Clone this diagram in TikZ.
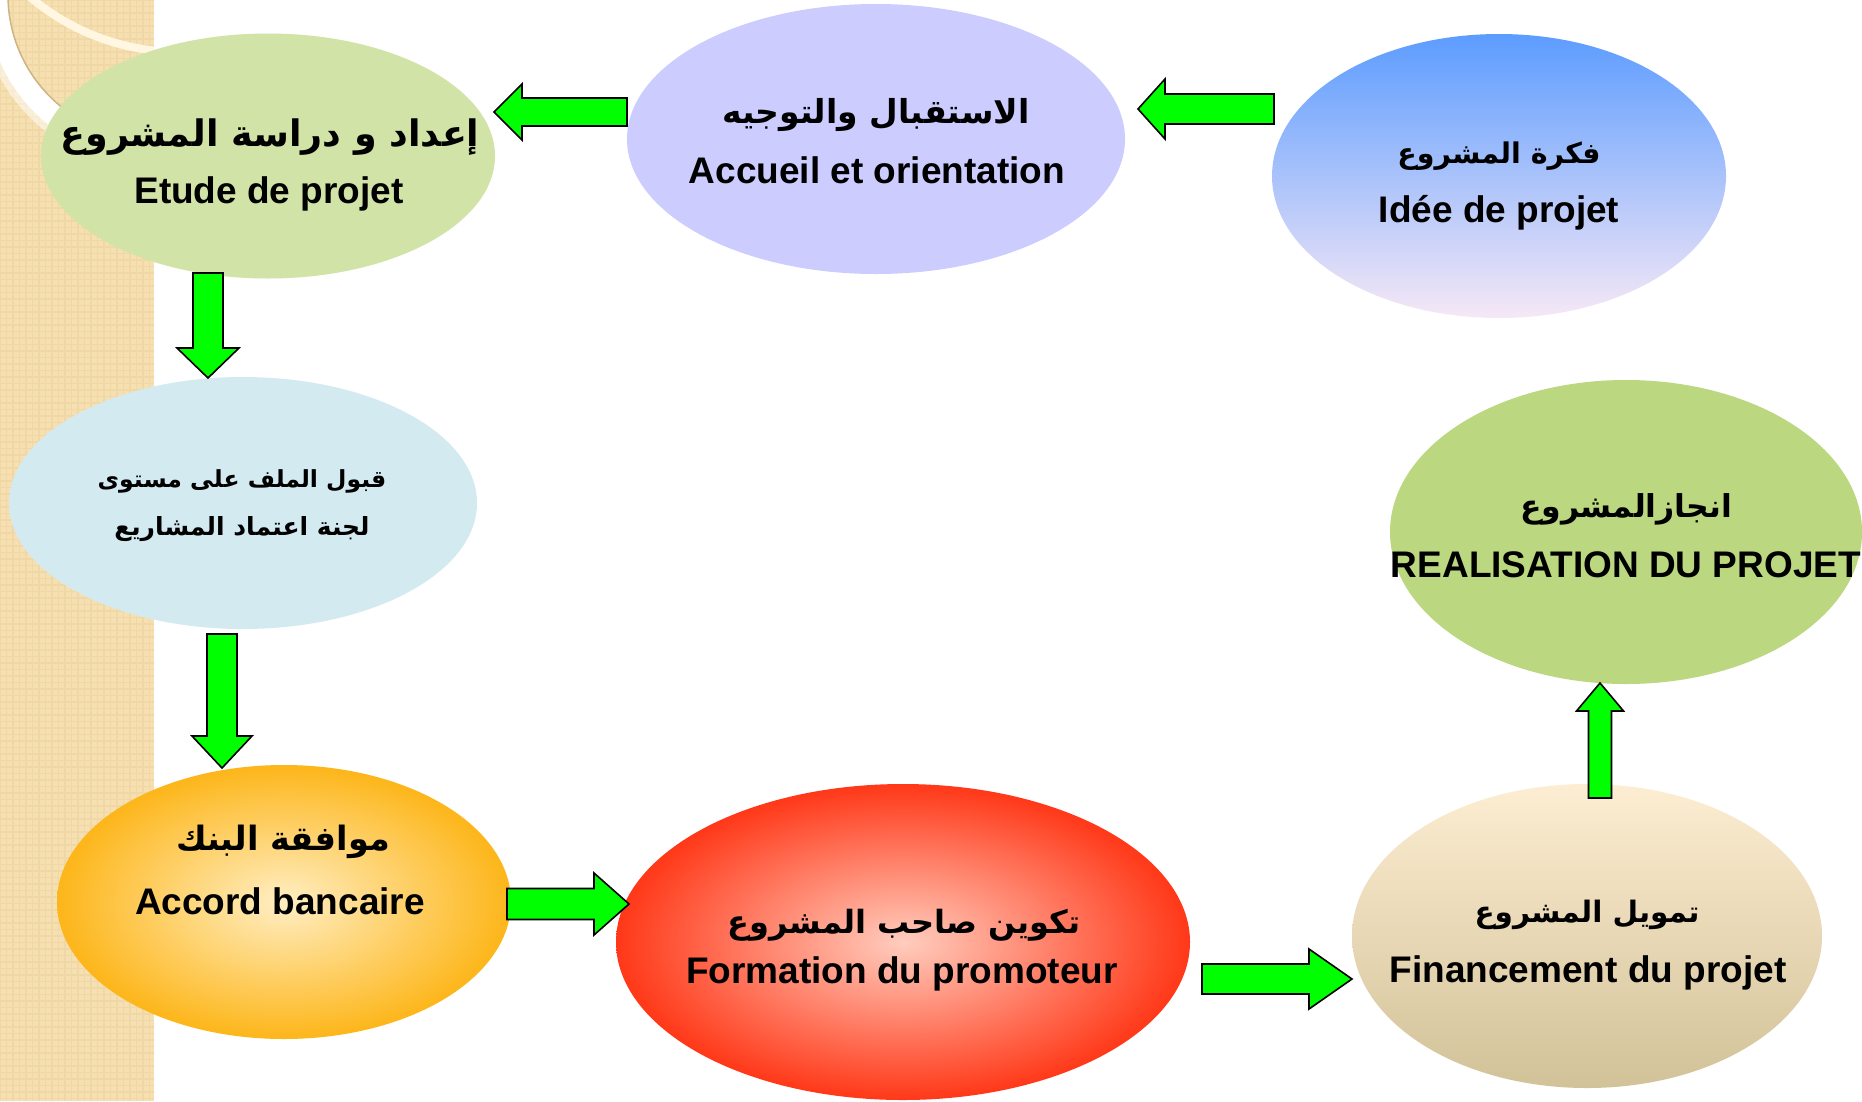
\documentclass[tikz,border=0pt]{standalone}
\usepackage{fontspec}
\setmainfont{Liberation Sans}
\newfontfamily\arabicfont[Script=Arabic]{DejaVu Sans}
\TeXXeTstate=1
\usetikzlibrary{shapes.geometric,calc}

\definecolor{stripbg}{RGB}{246,224,178}
\definecolor{stripline}{RGB}{240,215,166}
\definecolor{striprim}{RGB}{205,180,130}
\definecolor{stripcream}{RGB}{255,247,226}
\definecolor{etudegreen}{RGB}{209,227,166}
\definecolor{accueilblue}{RGB}{204,204,255}
\definecolor{ideetop}{RGB}{92,156,255}
\definecolor{ideebottom}{RGB}{246,232,246}
\definecolor{comitecyan}{RGB}{212,234,241}
\definecolor{accordin}{RGB}{255,238,195}
\definecolor{accordout}{RGB}{253,182,26}
\definecolor{formin}{RGB}{255,205,190}
\definecolor{formout}{RGB}{255,56,24}
\definecolor{fintop}{RGB}{253,237,210}
\definecolor{finmid}{RGB}{244,234,214}
\definecolor{finbottom}{RGB}{210,194,152}
\definecolor{realgreen}{RGB}{187,215,128}
\definecolor{arrowgreen}{RGB}{0,255,0}

\begin{document}
\begin{tikzpicture}[x=1pt,y=1pt,
	stage/.style={ellipse, inner sep=0pt, draw=none},
	frtext/.style={anchor=base, font=\bfseries\fontsize{37}{44}\selectfont},
	artext/.style={anchor=base, font=\arabicfont\bfseries\fontsize{#1}{36}\selectfont},
	greenarrow/.style n args={3}{draw=black, fill=arrowgreen, line width=1.6pt, line join=miter,
		to path={($(\tikztotarget)!#3!(\tikztostart)$) coordinate (hb)
			($(\tikztostart)!#1!90:(\tikztotarget)$)
			-- ($(hb)!#1!90:(\tikztotarget)$) -- ($(hb)!#2!90:(\tikztotarget)$)
			-- (\tikztotarget)
			-- ($(hb)!#2!-90:(\tikztotarget)$) -- ($(hb)!#1!-90:(\tikztotarget)$)
			-- ($(\tikztostart)!#1!-90:(\tikztotarget)$) -- cycle}}]
		\useasboundingbox (0,0) rectangle (1862,-1101);
		\fill[white] (0,0) rectangle (1862,-1101);
		% left strip
		\begin{scope}
		\clip (0,0) rectangle (154,-1101);
		\fill[stripbg] (0,0) rectangle (154,-1101);
		\draw[stripline, line width=1.2pt, step=6.5pt] (0,0) grid (154,-1101);
		\draw[white, line width=22pt, opacity=0.5] (152,5) circle (162);
		\draw[white, line width=22pt] (152,5) circle (155);
		\draw[striprim, line width=1.5pt] (152,5) circle (144);
		\draw[stripcream, line width=8pt] (180,180) circle (232);
		\end{scope}
		% stages
		\node[stage, fill=etudegreen, minimum width=454pt, minimum height=245pt] (etude) at (268,-156) {};
		\node[stage, fill=accueilblue, minimum width=498pt, minimum height=270pt] (accueil) at (876,-139) {};
		\node[stage, top color=ideetop, bottom color=ideebottom, minimum width=454pt, minimum height=284pt] (idee) at (1499,-176) {};
		\node[stage, fill=comitecyan, minimum width=468pt, minimum height=252pt] (comite) at (243,-503) {};
		\node[stage, inner color=accordin, outer color=accordout, minimum width=454pt, minimum height=274pt] (accord) at (284,-902) {};
		\node[stage, inner color=formin, outer color=formout, minimum width=574pt, minimum height=316pt] (formation) at (903,-942) {};
		\node[stage, top color=fintop, middle color=finmid, bottom color=finbottom, minimum width=470pt, minimum height=304pt] (financement) at (1587,-936) {};
		\node[stage, fill=realgreen, minimum width=472pt, minimum height=304pt] (realisation) at (1626,-532) {};
		% arrows
		\coordinate (c2b-tail) at (1274,-109);
		\coordinate (c2b-tip) at (1138,-109);
		\coordinate (b2a-tail) at (627,-112);
		\coordinate (b2a-tip) at (494,-112);
		\coordinate (a2d-tail) at (208,-273);
		\coordinate (a2d-tip) at (208,-378);
		\coordinate (d2e-tail) at (222,-634);
		\coordinate (d2e-tip) at (222,-768);
		\coordinate (e2f-tail) at (507,-904);
		\coordinate (e2f-tip) at (629,-904);
		\coordinate (f2g-tail) at (1202,-979);
		\coordinate (f2g-tip) at (1352,-979);
		\coordinate (g2h-tail) at (1600,-798);
		\coordinate (g2h-tip) at (1600,-683);
		\draw[greenarrow={15pt}{30pt}{27pt}] (c2b-tail) to (c2b-tip);
		\draw[greenarrow={14pt}{28pt}{28pt}] (b2a-tail) to (b2a-tip);
		\draw[greenarrow={15pt}{31pt}{30pt}] (a2d-tail) to (a2d-tip);
		\draw[greenarrow={15pt}{30pt}{32pt}] (d2e-tail) to (d2e-tip);
		\draw[greenarrow={15.5pt}{31pt}{35pt}] (e2f-tail) to (e2f-tip);
		\draw[greenarrow={15pt}{30pt}{43pt}] (f2g-tail) to (f2g-tip);
		\draw[greenarrow={11.5pt}{23.5pt}{28pt}] (g2h-tail) to (g2h-tip);
		% texts
		\node[artext=36.5] (etude-ar) at (270,-146) {\beginR إعداد و دراسة المشروع\endR};
		\node[frtext] (etude-fr) at (269,-203) {Etude de projet};
		\node[artext=33] (accueil-ar) at (876,-123) {\beginR الاستقبال والتوجيه\endR};
		\node[frtext] (accueil-fr) at (877,-183) {Accueil et orientation};
		\node[artext=28.5] (idee-ar) at (1499,-163) {\beginR فكرة المشروع\endR};
		\node[frtext] (idee-fr) at (1499,-222) {Idée de projet};
		\node[artext=23.5] (comite-ar1) at (242,-487) {\beginR قبول الملف على مستوى\endR};
		\node[artext=25] (comite-ar2) at (242,-535) {\beginR لجنة اعتماد المشاريع\endR};
		\node[artext=33.5] (accord-ar) at (283,-850) {\beginR موافقة البنك\endR};
		\node[frtext] (accord-fr) at (280,-914) {Accord bancaire};
		\node[artext=32] (formation-ar) at (904,-933) {\beginR تكوين صاحب المشروع\endR};
		\node[frtext] (formation-fr) at (902,-983) {Formation du promoteur};
		\node[artext=29.5] (financement-ar) at (1587,-922) {\beginR تمويل المشروع\endR};
		\node[frtext] (financement-fr) at (1588,-982) {Financement du projet};
		\node[artext=31.5] (realisation-ar) at (1626,-517) {\beginR انجازالمشروع\endR};
		\node[frtext] (realisation-fr) at (1626,-577) {REALISATION DU PROJET};
\end{tikzpicture}
\end{document}
